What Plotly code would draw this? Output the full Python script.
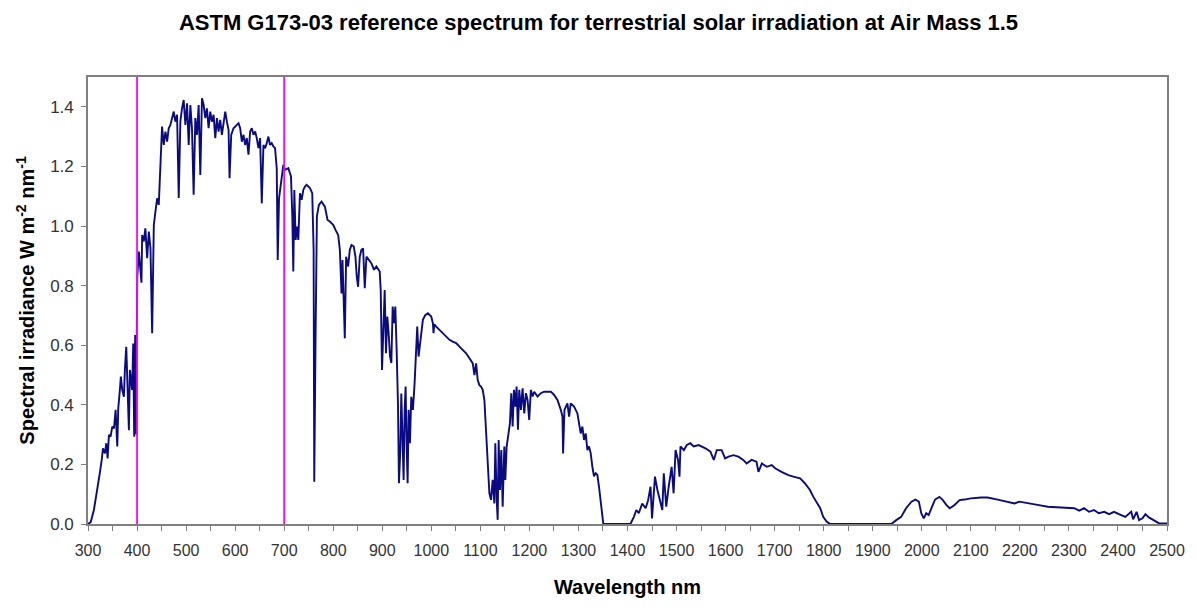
import plotly.graph_objects as go

# ASTM G173-03 global tilt spectrum (AM1.5), wavelength in nm, irradiance in W m^-2 nm^-1
wavelength_nm = [
    300, 305.5, 312, 319, 324, 328, 330.5, 334.6, 337.3, 340,
    342.7, 346, 349.5, 353, 356.3, 359.7, 361.7, 365, 367, 369.8,
    373.2, 375.2, 378, 380.6, 383.4, 385.4, 388, 390, 392.2, 394.2,
    396.2, 398.3, 399.5, 400.5, 403.7, 407, 409, 410.4, 413.8, 417,
    420.6, 424, 427.4, 430.8, 432.5, 434.2, 437.5, 441, 444.3, 447.7,
    451, 454.5, 457.9, 461.3, 464.6, 468, 471.4, 474.8, 478.2, 481.6,
    485, 488.3, 491.7, 495.1, 498.5, 502, 505.3, 508.7, 512, 515.4,
    518.8, 522.2, 525.6, 529, 532.4, 535.8, 539.2, 542.5, 545.9, 549.3,
    552.7, 556.1, 559.5, 562.9, 566.2, 569.6, 573, 576.4, 579.8, 583.2,
    586.6, 588.6, 592, 596.7, 603.5, 606.9, 610.3, 613.7, 617.1, 620.4,
    623.8, 627.2, 630.6, 634, 637.4, 640.8, 644.1, 647.5, 650.9, 654.3,
    657.7, 661.1, 664.5, 667.8, 671.2, 674.6, 678, 681.4, 684.8, 686.8,
    689.5, 693.6, 698.3, 701.7, 708.5, 713.9, 716.6, 718.6, 720.7, 723.4,
    726.1, 728.8, 732.2, 735.6, 739, 742.3, 745.7, 752.5, 757.2, 760,
    761.3, 764, 766.7, 770.8, 776.2, 783, 788.4, 793.1, 799.9, 804.7,
    810.1, 813.5, 816.9, 818.9, 820.9, 823.6, 826.3, 830.4, 833.8, 837.2,
    841.9, 845.3, 848, 850.7, 854.1, 857.5, 860.9, 864.3, 867.7, 872.4,
    877.8, 883.2, 888, 894.8, 896.8, 899.5, 902.2, 904.9, 907.6, 910.3,
    913, 915.8, 918.5, 921.2, 923.9, 926.6, 929.3, 932, 934, 936.8,
    938.8, 940.8, 943.5, 945.6, 947.6, 949.6, 951.7, 953.7, 956.4, 959.1,
    962.5, 965.9, 969.3, 971.3, 974, 976.7, 979.4, 982.8, 987.6, 993,
    999.8, 1003.2, 1004.5, 1006, 1010, 1016.7, 1023.5, 1030.3, 1037.1, 1043.8,
    1050.6, 1057.4, 1064.2, 1071, 1077.7, 1084.5, 1087.9, 1091.3, 1094.6, 1098,
    1101.4, 1104.8, 1108.2, 1111.6, 1115, 1118.4, 1121.7, 1125.1, 1128.5, 1130.5,
    1133.3, 1135.3, 1137.3, 1140, 1142.7, 1145.5, 1148.8, 1150.9, 1153.6, 1156.3,
    1160.3, 1163, 1165.8, 1168.5, 1171.2, 1173.9, 1176.6, 1179.3, 1182.7, 1186.1,
    1189.5, 1192.9, 1196.3, 1199.6, 1203, 1206.4, 1209.8, 1216.6, 1223.3, 1230.1,
    1236.9, 1243.7, 1250.4, 1257.2, 1264, 1267.4, 1268.7, 1271.4, 1277.5, 1280.9,
    1284.3, 1291.1, 1297.9, 1301.3, 1304.6, 1308, 1311.4, 1314.8, 1318.2, 1321.6,
    1325, 1328.3, 1331.7, 1335.1, 1338.5, 1341.9, 1345.3, 1348.7, 1350.7, 1406,
    1413, 1418, 1423, 1430, 1437, 1442, 1447, 1450, 1456, 1461,
    1466, 1471, 1474, 1479, 1484, 1490, 1494, 1498, 1503, 1506,
    1508, 1515, 1521, 1528, 1535, 1545, 1559, 1569, 1576, 1582,
    1592, 1599, 1606, 1616, 1626, 1636, 1643, 1653, 1663, 1667,
    1674, 1684, 1694, 1701, 1714, 1728, 1738, 1752, 1762, 1772,
    1779, 1785, 1793, 1799, 1806, 1813, 1938, 1948, 1958, 1968,
    1979, 1987, 1994, 1999, 2004, 2009, 2014, 2021, 2027, 2036,
    2043, 2050, 2057, 2067, 2077, 2087, 2100, 2121, 2134, 2155,
    2175, 2189, 2199, 2216, 2236, 2257, 2277, 2297, 2311, 2321,
    2331, 2341, 2351, 2361, 2372, 2382, 2392, 2402, 2415, 2427,
    2431, 2438, 2443, 2450, 2456, 2463, 2470, 2477, 2484, 2500,
]

irradiance = [
    0.0, 0.006, 0.047, 0.114, 0.170, 0.215, 0.254, 0.237, 0.271, 0.220,
    0.299, 0.293, 0.327, 0.321, 0.383, 0.260, 0.388, 0.450, 0.495, 0.450,
    0.427, 0.517, 0.595, 0.461, 0.315, 0.517, 0.483, 0.450, 0.606, 0.293,
    0.634, 0.300, 0.640, 0.830, 0.914, 0.836, 0.810, 0.970, 0.948, 0.992,
    0.892, 0.981, 0.925, 0.640, 0.950, 1.003, 1.048, 1.093, 1.071, 1.194,
    1.334, 1.272, 1.317, 1.283, 1.328, 1.339, 1.367, 1.384, 1.350, 1.373,
    1.094, 1.350, 1.395, 1.423, 1.339, 1.412, 1.272, 1.406, 1.328, 1.105,
    1.362, 1.306, 1.406, 1.171, 1.429, 1.406, 1.362, 1.395, 1.328, 1.384,
    1.350, 1.373, 1.295, 1.362, 1.317, 1.356, 1.306, 1.339, 1.384, 1.350,
    1.322, 1.160, 1.306, 1.328, 1.339, 1.345, 1.328, 1.283, 1.306, 1.272,
    1.295, 1.239, 1.317, 1.328, 1.306, 1.317, 1.295, 1.261, 1.295, 1.076,
    1.272, 1.261, 1.278, 1.300, 1.272, 1.278, 1.267, 1.261, 1.194, 0.886,
    1.093, 1.138, 1.205, 1.188, 1.194, 1.166, 1.032, 0.847, 1.121, 0.953,
    0.998, 0.953, 1.110, 1.088, 1.121, 1.132, 1.138, 1.127, 1.110, 0.920,
    0.142, 0.629, 1.032, 1.071, 1.082, 1.065, 1.020, 1.015, 1.004, 0.987,
    0.970, 0.920, 0.774, 0.886, 0.785, 0.623, 0.897, 0.864, 0.920, 0.936,
    0.931, 0.897, 0.830, 0.796, 0.897, 0.920, 0.925, 0.791, 0.897, 0.886,
    0.875, 0.853, 0.864, 0.847, 0.785, 0.517, 0.696, 0.785, 0.573, 0.696,
    0.640, 0.562, 0.540, 0.730, 0.674, 0.730, 0.584, 0.405, 0.137, 0.248,
    0.438, 0.271, 0.148, 0.383, 0.461, 0.271, 0.137, 0.383, 0.271, 0.427,
    0.383, 0.472, 0.629, 0.663, 0.562, 0.607, 0.629, 0.685, 0.701, 0.707,
    0.696, 0.674, 0.640, 0.670, 0.662, 0.651, 0.640, 0.629, 0.618, 0.612,
    0.607, 0.595, 0.584, 0.573, 0.556, 0.539, 0.500, 0.539, 0.483, 0.466,
    0.461, 0.450, 0.416, 0.316, 0.193, 0.103, 0.081, 0.148, 0.069, 0.271,
    0.081, 0.014, 0.282, 0.114, 0.248, 0.058, 0.260, 0.148, 0.260, 0.293,
    0.338, 0.439, 0.327, 0.450, 0.394, 0.461, 0.316, 0.450, 0.383, 0.455,
    0.371, 0.439, 0.416, 0.349, 0.450, 0.428, 0.444, 0.428, 0.439, 0.444,
    0.444, 0.444, 0.433, 0.416, 0.383, 0.360, 0.237, 0.383, 0.405, 0.360,
    0.405, 0.394, 0.371, 0.338, 0.304, 0.327, 0.282, 0.304, 0.248, 0.260,
    0.237, 0.193, 0.160, 0.170, 0.165, 0.125, 0.069, 0.008, 0.0, 0.0,
    0.024, 0.047, 0.036, 0.069, 0.053, 0.080, 0.125, 0.019, 0.159, 0.114,
    0.080, 0.047, 0.170, 0.058, 0.125, 0.192, 0.103, 0.248, 0.215, 0.159,
    0.260, 0.248, 0.265, 0.271, 0.260, 0.265, 0.254, 0.243, 0.215, 0.248,
    0.248, 0.220, 0.226, 0.231, 0.226, 0.215, 0.203, 0.215, 0.209, 0.175,
    0.203, 0.192, 0.198, 0.187, 0.175, 0.164, 0.159, 0.153, 0.136, 0.114,
    0.091, 0.075, 0.053, 0.024, 0.008, 0.0, 0.0, 0.013, 0.024, 0.053,
    0.075, 0.082, 0.075, 0.036, 0.019, 0.036, 0.030, 0.058, 0.082, 0.091,
    0.080, 0.064, 0.053, 0.064, 0.080, 0.082, 0.086, 0.089, 0.089, 0.082,
    0.075, 0.069, 0.075, 0.069, 0.064, 0.058, 0.056, 0.053, 0.053, 0.045,
    0.053, 0.041, 0.047, 0.036, 0.041, 0.033, 0.041, 0.033, 0.024, 0.041,
    0.016, 0.041, 0.013, 0.019, 0.033, 0.022, 0.016, 0.008, 0.002, 0.002,
]

# Edges of the visible band marked on the chart
visible_edges_nm = [400, 700]

x_ticks = list(range(300, 2501, 100))
y_ticks = [0.0, 0.2, 0.4, 0.6, 0.8, 1.0, 1.2, 1.4]

FONT = "Arial, Liberation Sans, sans-serif"
FRAME = "#808080"

fig = go.Figure()

fig.add_trace(go.Scatter(
    x=wavelength_nm,
    y=irradiance,
    mode="lines",
    line=dict(color="#0a0a84", width=1.9),
    hoverinfo="x+y",
    showlegend=False,
))

for edge in visible_edges_nm:
    fig.add_trace(go.Scatter(
        x=[edge, edge],
        y=[0, 1.5],
        mode="lines",
        line=dict(color="#ff00ff", width=1.8),
        hoverinfo="skip",
        showlegend=False,
    ))

fig.update_layout(
    width=1197,
    height=612,
    margin=dict(l=88, r=27, t=77, b=88),
    paper_bgcolor="white",
    plot_bgcolor="white",
    font=dict(family=FONT, color="#222222"),
    title=dict(
        text="<b>ASTM G173-03 reference spectrum for terrestrial solar irradiation at Air Mass 1.5</b>",
        font=dict(family=FONT, size=22, color="#000000"),
        x=0.5,
        xanchor="center",
        y=1 - 22 / 612,
        yanchor="middle",
    ),
)

fig.update_xaxes(
    range=[300, 2500],
    tickmode="array",
    tickvals=x_ticks,
    ticktext=[str(v) for v in x_ticks],
    ticks="outside",
    ticklen=5,
    tickwidth=1.2,
    tickcolor=FRAME,
    minor=dict(dtick=50, tick0=300, ticks="outside", ticklen=5, tickwidth=1.2, tickcolor=FRAME, showgrid=False),
    tickfont=dict(family=FONT, size=16, color="#333333"),
    ticklabelstandoff=6,
    showline=True,
    linecolor=FRAME,
    linewidth=1.6,
    mirror=True,
    showgrid=False,
    zeroline=False,
    title=dict(
        text="<b>Wavelength nm</b>",
        font=dict(family=FONT, size=20, color="#000000"),
        standoff=22,
    ),
)

fig.update_yaxes(
    range=[0, 1.5],
    tickmode="array",
    tickvals=y_ticks,
    ticktext=[f"{v:.1f}" for v in y_ticks],
    ticks="outside",
    ticklen=5,
    tickwidth=1.2,
    tickcolor=FRAME,
    tickfont=dict(family=FONT, size=17, color="#333333"),
    ticklabelstandoff=4,
    showline=True,
    linecolor=FRAME,
    linewidth=1.6,
    mirror=True,
    showgrid=False,
    zeroline=False,
    title=dict(
        text="<b>Spectral irradiance W m<sup>-2</sup> nm<sup>-1</sup></b>",
        font=dict(family=FONT, size=20, color="#000000"),
        standoff=10,
    ),
)

fig.write_html("out.html")
